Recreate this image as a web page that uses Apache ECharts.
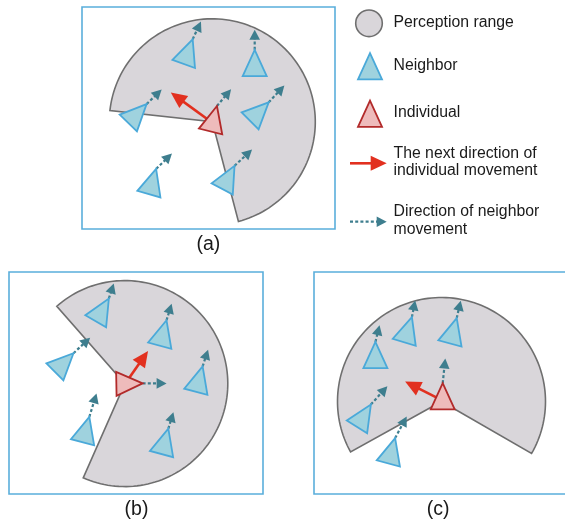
<!DOCTYPE html>
<html><head><meta charset="utf-8">
<script src="https://cdn.jsdelivr.net/npm/echarts/dist/echarts.min.js"></script>
<style>html,body{margin:0;padding:0;background:#fff}#c{width:565px;height:524px}</style>
</head><body><div id="c"></div>
<script>
// ---- data (diagram coordinates) ----
// panel frames: x1, y1, x2, y2
const frames = [[82,7,335,229],[9,272,263,494],[314,272,568,494]];
// perception sectors: cx, cy, radius, startAngle, endAngle (deg, ccw from east)
const sectors = [
  [212.3,121.8,103,-75.3,173.7],
  [124.8,383.6,103,-113.8,131.3],
  [441.5,401.5,104,-30,209]
];
// neighbors: cx, cy, heading (deg clockwise from up), arrow direction, arrow length
const neighbors = [
  [186.7,55.7,20,25,19.5],
  [254.7,67.3,0,0,20],
  [134.4,116.7,44,46,21],
  [256.3,114.7,45,43,23],
  [151.3,185.7,16,46,22],
  [226.3,181.3,28,47,24],
  [100.1,313.7,30,18,15.8],
  [162,337.2,15,17,17.4],
  [61.1,365.6,45,47,22.8],
  [198.1,383.3,15,18,17.6],
  [84.8,433.8,15,17,24.5],
  [163.8,445.6,15,17,17.3],
  [375.4,359.4,0,14,17.2],
  [406.8,333.9,17,11,17],
  [452.2,335,15,13,17.8],
  [361.6,419.4,32,42,24.7],
  [390.6,455,15,28,24.6]
];
// individuals: cx, cy, heading, current dir, current length, next dir, next length
const individuals = [
  [212.7,123,14,40,22,-54,51.8],
  [125.1,383.7,89,90,24,35,40],
  [442.7,400.7,0,6,24.8,-63,42.2]
];
const panelLabels = ['(a)','(b)','(c)'];
const panelLabelPos = [[208.4,244.5],[136.5,510],[438,510]];
const legendLabels = ['Perception range','Neighbor','Individual','The next direction of\nindividual movement','Direction of neighbor\nmovement'];
const legendTextPos = [[393.5,22.5],[393.5,65.5],[393.5,113],[393.5,162],[393.5,220.5]];
const legendSymbolPos = [[369,23.3],[370,66.3],[370,113.8],[350,163.3],[350,221.7]];

// ---- style ----
const C = {
  frame:'#5aaedb', secFill:'#d9d6da', secLine:'#6f6f6f',
  nFill:'#9fd2de', nLine:'#4aa9d9', iFill:'#eebbbb', iLine:'#b22a2a',
  red:'#e2301f', teal:'#3e7e8e', text:'#1a1a1a'
};
const FONT = '"Liberation Sans", Arial, sans-serif';
const rad = d => d*Math.PI/180;
const dirOf = deg => [Math.sin(rad(deg)), -Math.cos(rad(deg))];

function triPts(cx, cy, hd){
  const [dx,dy] = dirOf(hd); const px=-dy, py=dx;
  const A=17.5, B=8.75, W=12;
  return [[cx+dx*A,cy+dy*A],[cx-dx*B+px*W,cy-dy*B+py*W],[cx-dx*B-px*W,cy-dy*B-py*W]];
}
function arrowEls(api, sx, sy, deg, len, h, w, color, lw, dash){
  const [dx,dy] = dirOf(deg); const px=-dy, py=dx;
  const tx=sx+dx*len, ty=sy+dy*len;
  const bx=tx-dx*h, by=ty-dy*h;
  const c = p => api.coord(p);
  const a=c([sx,sy]), b=c([bx+dx*1, by+dy*1]);
  return [
    {type:'line', shape:{x1:a[0],y1:a[1],x2:b[0],y2:b[1]},
     style:{stroke:color, lineWidth:lw, lineDash:dash||null, fill:null}},
    {type:'polygon', shape:{points:[c([tx,ty]),c([bx+px*w,by+py*w]),c([bx-px*w,by-py*w])]},
     style:{fill:color, stroke:null}}
  ];
}
const DASH=[3,2.2];
function tri(api, cx, cy, hd, fill, line){
  return {type:'polygon', shape:{points:triPts(cx,cy,hd).map(p=>api.coord(p))},
    style:{fill:fill, stroke:line, lineWidth:1.8, lineJoin:'miter'}};
}

const chart = echarts.init(document.getElementById('c'));
chart.setOption({
  animation:false,
  grid:{left:0,right:0,top:0,bottom:0},
  xAxis:{type:'value',min:0,max:565,show:false},
  yAxis:{type:'value',min:0,max:524,inverse:true,show:false},
  series:[
    {type:'custom', data:frames, renderItem:(p,api)=>{
      const a=api.coord([api.value(0),api.value(1)]), b=api.coord([api.value(2),api.value(3)]);
      return {type:'rect', shape:{x:a[0],y:a[1],width:b[0]-a[0],height:b[1]-a[1]},
        style:{fill:null, stroke:C.frame, lineWidth:1.6}};
    }},
    {type:'custom', data:sectors, renderItem:(p,api)=>{
      const cx=api.value(0), cy=api.value(1), r=api.value(2), s=api.value(3), e=api.value(4);
      const pts=[api.coord([cx,cy])];
      for(let i=0;i<=120;i++){
        const t=rad(s+(e-s)*i/120);
        pts.push(api.coord([cx+r*Math.cos(t), cy-r*Math.sin(t)]));
      }
      return {type:'polygon', shape:{points:pts}, style:{fill:C.secFill, stroke:C.secLine, lineWidth:1.6}};
    }},
    // individual next-direction arrows (red), under the triangle
    {type:'custom', data:individuals, renderItem:(p,api)=>{
      const v=i=>api.value(i);
      return {type:'group', children:arrowEls(api, v(0), v(1), v(5), v(6), 16, 7.5, C.red, 2.6)};
    }},
    // neighbor dashed arrows
    {type:'custom', data:neighbors, renderItem:(p,api)=>{
      const v=i=>api.value(i);
      const apex=triPts(v(0),v(1),v(2))[0];
      return {type:'group', children:arrowEls(api, apex[0], apex[1], v(3), v(4), 10, 5.3, C.teal, 2.2, DASH)};
    }},
    // individual current dashed arrows
    {type:'custom', data:individuals, renderItem:(p,api)=>{
      const v=i=>api.value(i);
      const apex=triPts(v(0),v(1),v(2))[0];
      return {type:'group', children:arrowEls(api, apex[0], apex[1], v(3), v(4), 10, 5.3, C.teal, 2.2, DASH)};
    }},
    {type:'custom', data:neighbors, renderItem:(p,api)=>tri(api, api.value(0), api.value(1), api.value(2), C.nFill, C.nLine)},
    {type:'custom', data:individuals, renderItem:(p,api)=>tri(api, api.value(0), api.value(1), api.value(2), C.iFill, C.iLine)},
    // panel labels
    {type:'custom', data:panelLabelPos, renderItem:(p,api)=>{
      const a=api.coord([api.value(0),api.value(1)]);
      return {type:'text', x:a[0], y:a[1], style:{text:panelLabels[p.dataIndex], fill:C.text,
        font:'19.5px '+FONT, align:'center', verticalAlign:'middle'}};
    }},
    // legend symbols
    {type:'custom', data:legendSymbolPos, renderItem:(p,api)=>{
      const x=api.value(0), y=api.value(1), i=p.dataIndex;
      if(i===0){
        const a=api.coord([x,y]), r=api.coord([x+13.3,y])[0]-a[0];
        return {type:'circle', shape:{cx:a[0],cy:a[1],r:r}, style:{fill:C.secFill, stroke:C.secLine, lineWidth:1.6}};
      }
      if(i===1) return tri(api, x, y+4.4, 0, C.nFill, C.nLine);
      if(i===2) return tri(api, x, y+4.4, 0, C.iFill, C.iLine);
      if(i===3) return {type:'group', children:arrowEls(api, x, y, 90, 36.7, 16, 7.5, C.red, 2.6)};
      return {type:'group', children:arrowEls(api, x, y, 90, 36.7, 10, 5.3, C.teal, 2.2, DASH)};
    }},
    // legend labels
    {type:'custom', data:legendTextPos, renderItem:(p,api)=>{
      const a=api.coord([api.value(0),api.value(1)]);
      return {type:'text', x:a[0], y:a[1], style:{text:legendLabels[p.dataIndex], fill:C.text,
        font:'15.8px '+FONT, align:'left', verticalAlign:'middle', lineHeight:17.5}};
    }}
  ]
});
</script>
</body></html>
